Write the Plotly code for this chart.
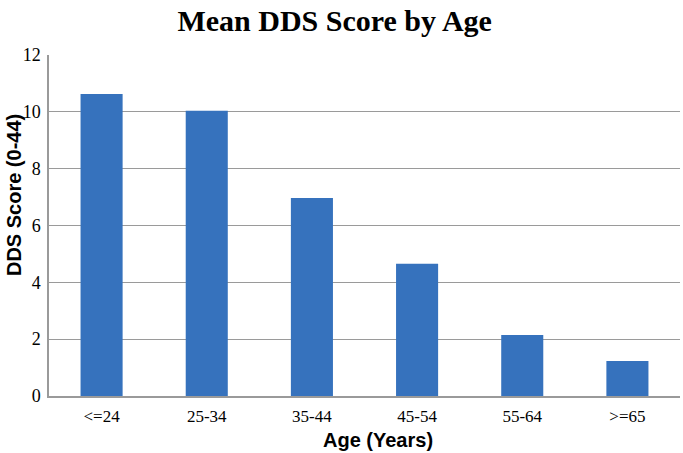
import plotly.graph_objects as go

categories = ["<=24", "25-34", "35-44", "45-54", "55-64", ">=65"]
mean_dds = [10.63, 10.04, 6.97, 4.65, 2.15, 1.23]
y_ticks = [0, 2, 4, 6, 8, 10, 12]

fig = go.Figure()
fig.add_trace(go.Bar(
    x=categories, y=mean_dds,
    marker=dict(color="#3672bd", line=dict(width=0)),
    hoverinfo="x+y",
))

fig.update_layout(
    width=683, height=453,
    margin=dict(l=49, r=3, t=55, b=57, autoexpand=False),
    paper_bgcolor="white", plot_bgcolor="white",
    bargap=0.6,
    showlegend=False,
    title=dict(text="<b>Mean DDS Score by Age</b>", x=0.49, xanchor="center",
               y=0.955, yanchor="middle",
               font=dict(family="Liberation Serif", size=30, color="black")),
    xaxis=dict(
        showgrid=False, showline=True, linecolor="#9a9a9a", linewidth=1.5,
        ticks="", ticklabelstandoff=4,
        tickfont=dict(family="Liberation Serif", size=17, color="black"),
    ),
    yaxis=dict(
        range=[0, 12], tickvals=y_ticks, showgrid=True, gridcolor="#9a9a9a", gridwidth=1.2,
        showline=True, linecolor="#9a9a9a", linewidth=1.5, ticks="",
        zeroline=False, ticklabelstandoff=3,
        tickfont=dict(family="Liberation Serif", size=18, color="black"),
    ),
    annotations=[
        dict(text="<b>Age (Years)</b>", xref="paper", yref="paper",
             x=0.522, y=-0.129, xanchor="center", yanchor="middle", showarrow=False,
             font=dict(family="Liberation Sans", size=20, color="black")),
        dict(text="<b>DDS Score (0-44)</b>", xref="paper", yref="paper",
             x=-0.0556, y=0.589, xanchor="center", yanchor="middle", showarrow=False,
             textangle=-90,
             font=dict(family="Liberation Sans", size=20, color="black")),
    ],
)

fig.write_html("out.html", config={"displayModeBar": False},
               post_script="document.body.style.margin='0';")
